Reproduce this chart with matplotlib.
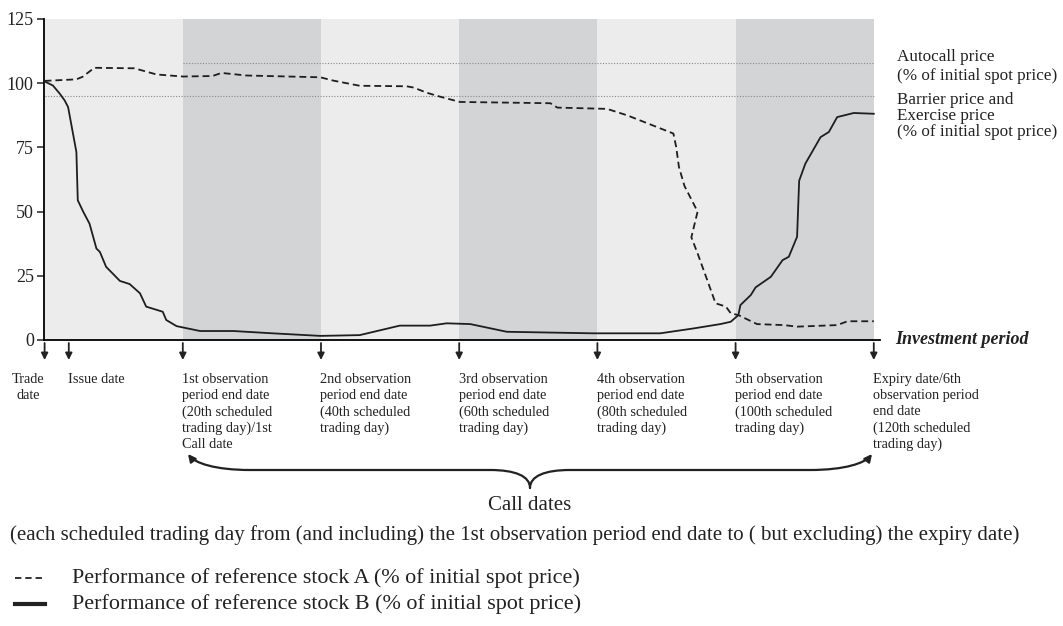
# payoff illustration: two reference stocks over the investment period

import matplotlib
matplotlib.use('Agg')
import matplotlib.pyplot as plt
from matplotlib.patches import FancyArrowPatch
from matplotlib.path import Path
from matplotlib.lines import Line2D

plt.rcParams['font.family'] = ['Liberation Serif', 'DejaVu Serif']

# stock A (dashed), % of initial spot price by trading day
a_days = [0, 4.6, 5.5, 7.2, 13, 16.2, 20, 24.3, 25.6, 29.2, 39.9, 41.8, 45.6, 52.4, 53.4,
          55.3, 57.3, 60.1, 73.2, 74.2, 81.4, 84.3, 91, 91.4, 91.8, 92.6, 94.5, 93.6, 94.6,
          95.9, 97.1, 98.6, 99.3, 100.4, 103.1, 107, 108.9, 114.7, 116.2, 120]
a_vals = [100.9, 101.5, 102.5, 106, 105.8, 103.4, 102.6, 102.8, 104, 103, 102.3, 101, 99,
          98.8, 98.3, 96.3, 94.7, 92.7, 92.2, 90.5, 90, 87.5, 80.4, 75.2, 67.4, 60, 50, 40,
          33, 23.3, 14.3, 13, 10.4, 9.7, 6.2, 5.8, 5.2, 5.8, 7.3, 7.3]

# stock B (solid)
b_days = [0, 1.2, 2.2, 2.9, 3.4, 4.6, 4.8, 5.6, 6.5, 7.5, 8, 8.9, 10.9, 12.3, 13.8, 14.7,
          17.1, 17.6, 19.1, 22.5, 27.3, 33, 39.9, 45.6, 51.4, 55.8, 58.2, 61.6, 66.9, 79.4,
          89.1, 93.9, 97.8, 99.3, 100.4, 100.7, 102.2, 102.9, 105.1, 106.8, 107.7, 108.9,
          109.2, 110.1, 112.3, 113.5, 114.7, 117.1, 120]
b_vals = [100.7, 99.1, 95.9, 93.3, 90.7, 73.2, 54.4, 49.9, 45.3, 35.6, 34.3, 28.5, 23, 21.8,
          18.2, 13, 11, 7.8, 5.4, 3.5, 3.5, 2.6, 1.6, 1.9, 5.6, 5.6, 6.5, 6.2, 3.2, 2.6, 2.6,
          4.5, 6.2, 7.1, 9.7, 13.6, 17.5, 20.5, 24.6, 31.1, 32.4, 40.2, 62, 68.7, 79, 81,
          86.8, 88.4, 88.1]

autocall = 108
barrier = 95
period_edges = [0, 20, 40, 60, 80, 100, 120]
yticks = [0, 25, 50, 75, 100, 125]

date_days = [0, 3.5, 20, 40, 60, 80, 100, 120]
date_labels = [
    "Trade\ndate",
    "Issue date",
    "1st observation\nperiod end date\n(20th scheduled\ntrading day)/1st\nCall date",
    "2nd observation\nperiod end date\n(40th scheduled\ntrading day)",
    "3rd observation\nperiod end date\n(60th scheduled\ntrading day)",
    "4th observation\nperiod end date\n(80th scheduled\ntrading day)",
    "5th observation\nperiod end date\n(100th scheduled\ntrading day)",
    "Expiry date/6th\nobservation period\nend date\n(120th scheduled\ntrading day)",
]

W, H = 1063, 626


def fx(x):
    return x / W


def fy(y):
    return 1 - y / H


fig = plt.figure(figsize=(W / 100, H / 100), dpi=100)
ax = fig.add_axes([fx(43.5), fy(340), (880 - 43.5) / W, 321 / H])

# alternating observation period bands
for i in range(len(period_edges) - 1):
    col = '#ececec' if i % 2 == 0 else '#d3d4d6'
    ax.axvspan(period_edges[i], period_edges[i + 1], color=col, lw=0, zorder=0)

ax.hlines(autocall, 20, 120, colors='#8a8a8a', lw=0.8, linestyles=(0, (1, 1.5)), zorder=1)
ax.hlines(barrier, 0, 120, colors='#8a8a8a', lw=0.8, linestyles=(0, (1, 1.5)), zorder=1)

ax.plot(a_days, a_vals, color='#1e1e1e', lw=1.3, ls=(0, (3.8, 2.2)), zorder=3)
ax.plot(b_days, b_vals, color='#1e1e1e', lw=1.3, zorder=3)

ax.set_xlim(-0.16, 120.9)
ax.set_ylim(0, 125)
ax.set_yticks(yticks)
ax.set_xticks([])
ax.tick_params(axis='y', direction='out', length=5, width=1.1, labelsize=13,
               colors='#222222', pad=2)
for s in ['top', 'right']:
    ax.spines[s].set_visible(False)
ax.spines['left'].set_linewidth(1.3)
ax.spines['bottom'].set_linewidth(1.3)

ax.text(1.018, 0.0, "Investment period", transform=ax.transAxes, fontsize=13,
        fontweight='bold', fontstyle='italic', va='center', ha='left', color='#222222')

# arrows and labels under the axis
xt = ax.get_xaxis_transform()
for d, lab in zip(date_days, date_labels):
    ax.annotate('', xy=(d, -20 / 321), xytext=(d, -3 / 321), xycoords=xt, textcoords=xt,
                arrowprops=dict(arrowstyle='-|>', color='#222222', lw=1.3,
                                mutation_scale=10, shrinkA=0, shrinkB=0),
                annotation_clip=False)
    if d == 0:
        ax.text(-2.4, -33 / 321, lab, transform=xt, fontsize=10.3, va='top', ha='center',
                ma='center', linespacing=1.3, color='#222222')
    else:
        ax.text(d - 0.1, -33 / 321, lab, transform=xt, fontsize=10.3, va='top', ha='left',
                linespacing=1.3, color='#222222')

# right hand labels
right_lines = [("Autocall price", 57), ("(% of initial spot price)", 76),
               ("Barrier price and", 100), ("Exercise price", 116),
               ("(% of initial spot price)", 132)]
for t, y in right_lines:
    fig.text(fx(897), fy(y), t, fontsize=12.3, va='center', ha='left', color='#222222')

# curly brace with arrow ends
def brace_half(sign):
    cx = 530
    pts = [(cx, 488), (cx, 476), (cx + sign * 15, 470), (cx + sign * 40, 470),
           (cx + sign * 280, 470),
           (cx + sign * 315, 470), (cx + sign * 335, 463), (cx + sign * 342, 454)]
    pts = [(fx(x), fy(y)) for x, y in pts]
    codes = [Path.MOVETO, Path.CURVE4, Path.CURVE4, Path.CURVE4, Path.LINETO,
             Path.CURVE4, Path.CURVE4, Path.CURVE4]
    p = FancyArrowPatch(path=Path(pts, codes), arrowstyle='-|>', mutation_scale=11,
                        color='#222222', lw=1.6, transform=fig.transFigure)
    fig.add_artist(p)


brace_half(-1)
brace_half(1)

fig.text(fx(530), fy(505), "Call dates", fontsize=15, ha='center', va='center', color='#222222')
fig.text(fx(515), fy(535), "(each scheduled trading day from (and including) the 1st observation "
         "period end date to ( but excluding) the expiry date)", fontsize=15, ha='center',
         va='center', color='#222222')

# legend
fig.add_artist(Line2D([fx(15), fx(45)], [fy(578), fy(578)], color='#222222', lw=1.3,
                      ls=(0, (3.5, 2.2)), transform=fig.transFigure))
fig.add_artist(Line2D([fx(15), fx(45)], [fy(604), fy(604)], color='#222222', lw=3,
                      transform=fig.transFigure))
fig.text(fx(72), fy(578), "Performance of reference stock A (% of initial spot price)",
         fontsize=15.9, va='center', ha='left', color='#222222')
fig.text(fx(72), fy(604), "Performance of reference stock B (% of initial spot price)",
         fontsize=15.9, va='center', ha='left', color='#222222')

fig.savefig('out.png', dpi=100)
